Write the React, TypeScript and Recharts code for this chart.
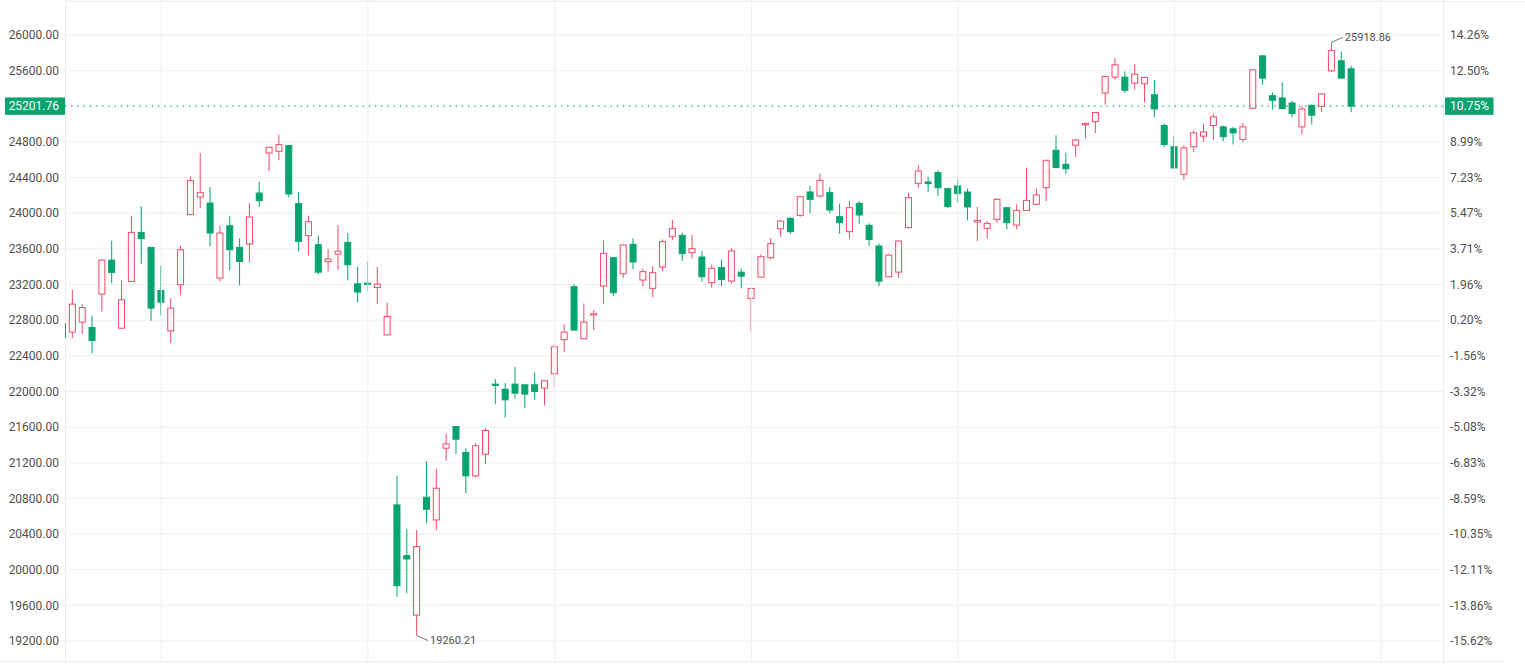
import React from 'react';
import {
  Bar,
  CartesianGrid,
  ComposedChart,
  ReferenceDot,
  ReferenceLine,
  XAxis,
  YAxis,
} from 'recharts';

const RED = '#ef4a68';
const GREEN = '#07a46e';
const TEXT = '#505050';
const GRID = '#f0f0f0';

const opens = [
  22759, 22665, 22778, 22718, 23092, 23474, 22710, 23235, 23785, 23617,
  23133, 22680, 23197, 23984, 24182, 24115, 23272, 23860, 23617, 23654,
  24227, 24676, 24695, 24759, 24107, 23748, 23647, 23456, 23542, 23673,
  23208, 23216, 23167, 22635, 20727, 20157, 19491, 20813, 20558, 21363,
  21607, 21315, 21053, 21296, 22082, 22026, 22082, 22075, 22075, 22037,
  22198, 22580, 23175, 22591, 22857, 23183, 23501, 23321, 23651, 23250,
  23157, 23396, 23737, 23752, 23557, 23509, 23220, 23389, 23239, 23339,
  23044, 23283, 23500, 23826, 23942, 23976, 24238, 24193, 24231, 23961,
  23793, 24111, 23864, 23632, 23287, 23339, 23838, 24336, 24351, 24455,
  24276, 24306, 24238, 23901, 23830, 23931, 24062, 23867, 24032, 24100,
  24287, 24706, 24549, 24763, 24991, 25028, 25349, 25527, 25527, 25460,
  25453, 25330, 24984, 24746, 24437, 24746, 24865, 24984, 24969, 24947,
  24828, 25178, 25766, 25319, 25293, 25237, 24969, 25211, 25200, 25598,
  25710, 25620,
];

const highs = [
  22790, 23141, 22980, 22849, 23480, 23691, 23253, 23972, 24077, 23620,
  23411, 23047, 23635, 24414, 24676, 24294, 23860, 23965, 23718, 24115,
  24354, 24744, 24882, 24762, 24234, 23972, 23748, 23598, 23867, 23778,
  23403, 23459, 23396, 22999, 21053, 20453, 20446, 21214, 21131, 21524,
  21610, 21363, 21420, 21588, 22139, 22094, 22273, 22078, 22213, 22124,
  22539, 22752, 23202, 22988, 22913, 23696, 23505, 23651, 23718, 23381,
  23408, 23707, 23924, 23782, 23756, 23576, 23423, 23482, 23606, 23381,
  23163, 23538, 23721, 23924, 23957, 24193, 24306, 24448, 24294, 24107,
  24137, 24137, 23886, 23662, 23545, 23695, 24231, 24538, 24411, 24482,
  24279, 24381, 24276, 24073, 23912, 24167, 24065, 24100, 24512, 24276,
  24597, 24875, 24680, 24830, 25017, 25133, 25542, 25740, 25591, 25673,
  25527, 25498, 25006, 24865, 24761, 24928, 25006, 25118, 24984, 24969,
  25014, 25612, 25769, 25356, 25468, 25263, 25207, 25219, 25349, 25918.86,
  25814, 25654,
];

const lows = [
  22600, 22598, 22643, 22429, 22898, 23216, 22705, 23230, 23433, 22793,
  22853, 22542, 23085, 23980, 24058, 23628, 23235, 23358, 23190, 23448,
  24070, 24470, 24594, 24178, 23572, 23523, 23317, 23347, 23366, 23246,
  22999, 23122, 22980, 22632, 19697, 19734, 19260.21, 20521, 20438, 21221,
  21296, 20858, 21034, 21184, 21858, 21708, 21918, 21813, 21906, 21843,
  22052, 22445, 22682, 22588, 22689, 22984, 23071, 23276, 23370, 23183,
  23059, 23351, 23696, 23464, 23490, 23232, 23164, 23183, 23209, 23156,
  22665, 23280, 23482, 23733, 23770, 23961, 23999, 24175, 23999, 23770,
  23714, 23882, 23632, 23182, 23284, 23276, 23830, 24287, 24238, 24193,
  24062, 24118, 23920, 23688, 23714, 23894, 23819, 23819, 24029, 24097,
  24137, 24508, 24444, 24631, 24841, 24897, 25219, 25498, 25349, 25386,
  25245, 25077, 24742, 24504, 24370, 24686, 24802, 24820, 24809, 24772,
  24798, 25170, 25442, 25163, 25170, 25077, 24884, 24995, 25137, 25583,
  25512, 25133,
];

const closes = [
  22609, 22980, 22942, 22572, 23474, 23336, 23029, 23785, 23714, 22935,
  23002, 22935, 23590, 24366, 24231, 23778, 23778, 23590, 23459, 23957,
  24141, 24740, 24770, 24216, 23684, 23905, 23339, 23486, 23575, 23422,
  23115, 23202, 23205, 22841, 19820, 20120, 20259, 20678, 20914, 21412,
  21464, 21053, 21390, 21562, 22067, 21906, 21981, 21970, 22000, 22120,
  22501, 22666, 22689, 22778, 22872, 23550, 23108, 23643, 23453, 23344,
  23333, 23681, 23827, 23546, 23602, 23288, 23381, 23258, 23576, 23294,
  23156, 23512, 23658, 23912, 23793, 24186, 24156, 24369, 24036, 23894,
  24062, 23980, 23706, 23238, 23530, 23688, 24175, 24474, 24332, 24287,
  24073, 24220, 24070, 23920, 23886, 24156, 23894, 24032, 24145, 24205,
  24594, 24512, 24500, 24822, 25006, 25130, 25535, 25665, 25379, 25561,
  25524, 25170, 24772, 24508, 24735, 24902, 24913, 25081, 24858, 24902,
  24969, 25609, 25516, 25267, 25174, 25118, 25170, 25100, 25338, 25825,
  25516, 25201.76,
];

// left axis price ticks and matching right axis percent labels
const priceTicks = [
  19200, 19600, 20000, 20400, 20800, 21200, 21600, 22000, 22400, 22800,
  23200, 23600, 24000, 24400, 24800, 25600, 26000,
];
const pctLabels = [
  '-15.62%', '-13.86%', '-12.11%', '-10.35%', '-8.59%', '-6.83%', '-5.08%', '-3.32%', '-1.56%', '0.20%',
  '1.96%', '3.71%', '5.47%', '7.23%', '8.99%', '12.50%', '14.26%',
];

// month boundaries (candle index)
const monthTicks = [10, 31, 50, 70, 91, 113, 134];

const lastPrice = 25201.76;
const lastPct = '10.75%';
const highMark = { i: 129, value: 25918.86 };
const lowMark = { i: 36, value: 19260.21 };

const data = opens.map((open, i) => ({
  i,
  open,
  high: highs[i],
  low: lows[i],
  close: closes[i],
  range: [lows[i], highs[i]],
}));

const Candle = (props: any) => {
  const { x, y, width, height, payload } = props;
  if (x == null || y == null) return null;
  const { open, close, high, low } = payload;
  const span = high - low;
  const toY = (v: number) => (span > 0 ? y + ((high - v) / span) * height : y);
  const up = close >= open;
  const color = up ? RED : GREEN;
  const cx = x + width / 2;
  const top = toY(Math.max(open, close));
  const bot = toY(Math.min(open, close));
  const bodyH = Math.max(bot - top, 1);
  return (
    <g>
      <line x1={cx} x2={cx} y1={y} y2={y + height} stroke={color} strokeWidth={1} />
      <rect
        x={x + 0.5}
        y={top}
        width={width - 1}
        height={bodyH}
        fill={up ? '#ffffff' : color}
        stroke={color}
        strokeWidth={1}
      />
    </g>
  );
};

const PriceTag = (props: any) => {
  const vb = props.viewBox || {};
  const { x, y, width } = vb;
  if (x == null || y == null) return null;
  return (
    <g>
      <rect x={x - 60} y={y - 8.7} width={60} height={17.4} fill={GREEN} />
      <text x={x - 6} y={y} dy="0.35em" textAnchor="end" fill="#fff" fontSize={12}>
        {lastPrice.toFixed(2)}
      </text>
      <rect x={x + width + 2} y={y - 8.7} width={48.5} height={17.4} fill={GREEN} />
      <text x={x + width + 7} y={y} dy="0.35em" textAnchor="start" fill="#fff" fontSize={12}>
        {lastPct}
      </text>
    </g>
  );
};

const makeMark = (label: string, dir: number) => (p: any) => {
  const { cx, cy } = p;
  if (cx == null || cy == null) return <g />;
  return (
    <g>
      <line x1={cx} y1={cy} x2={cx + 11} y2={cy + dir * 5} stroke="#777" strokeWidth={1} />
      <text x={cx + 13} y={cy + dir * 5} dy="0.35em" fill={TEXT} fontSize={11}>
        {label}
      </text>
    </g>
  );
};

export default function App() {
  return (
    <div
      style={{
        position: 'absolute',
        left: 0,
        top: 0,
        width: 1525,
        height: 664,
        background: '#fff',
        fontFamily: 'Roboto, Arial, sans-serif',
      }}
    >
      <div style={{ position: 'absolute', left: 65, top: 0, width: 1, height: 664, background: '#ececec' }} />
      <div style={{ position: 'absolute', left: 1443, top: 0, width: 1, height: 664, background: '#ececec' }} />
      <div style={{ position: 'absolute', left: 65, top: 1, width: 1460, height: 1, background: '#ececec' }} />
      <div style={{ position: 'absolute', left: 0, top: 661, width: 1503, height: 1, background: '#ececec' }} />
      <ComposedChart
        width={1525}
        height={664}
        data={data}
        margin={{ top: 1, right: 0, bottom: 2, left: 0 }}
        style={{ position: 'absolute', left: 0, top: 0 }}
      >
        <CartesianGrid stroke={GRID} vertical={false} />
        <XAxis
          type="number"
          dataKey="i"
          domain={[0.21, 140.3]}
          allowDataOverflow
          ticks={monthTicks}
          tick={false}
          axisLine={false}
          tickLine={false}
          height={0}
        />
        <YAxis
          domain={[18964, 26381.5]}
          allowDataOverflow
          ticks={priceTicks}
          width={65}
          axisLine={false}
          tickLine={false}
          tickSize={4}
          tickMargin={2}
          tick={{ fill: TEXT, fontSize: 12 }}
          tickFormatter={(v) => Number(v).toFixed(2)}
        />
        <YAxis
          yAxisId="right"
          orientation="right"
          domain={[18964, 26381.5]}
          allowDataOverflow
          ticks={priceTicks}
          width={82}
          axisLine={false}
          tickLine={false}
          tickSize={5}
          tickMargin={2}
          tick={{ fill: TEXT, fontSize: 12, textAnchor: 'start' }}
          tickFormatter={(v) => pctLabels[priceTicks.indexOf(Number(v))] ?? ''}
        />
        {monthTicks.map((t) => (
          <ReferenceLine key={t} x={t} stroke={GRID} strokeWidth={1} />
        ))}
        <Bar dataKey="range" barSize={7} shape={<Candle />} isAnimationActive={false} />
        <ReferenceLine
          y={lastPrice}
          stroke={GREEN}
          strokeWidth={1.3}
          strokeDasharray="1.3 4.9"
          label={(p: any) => <PriceTag {...p} />}
        />
        <ReferenceDot
          x={lowMark.i}
          y={lowMark.value}
          r={0}
          shape={makeMark(lowMark.value.toFixed(2), 1)}
        />
        <ReferenceDot
          x={highMark.i}
          y={highMark.value}
          r={0}
          shape={makeMark(highMark.value.toFixed(2), -1)}
        />
      </ComposedChart>
    </div>
  );
}
